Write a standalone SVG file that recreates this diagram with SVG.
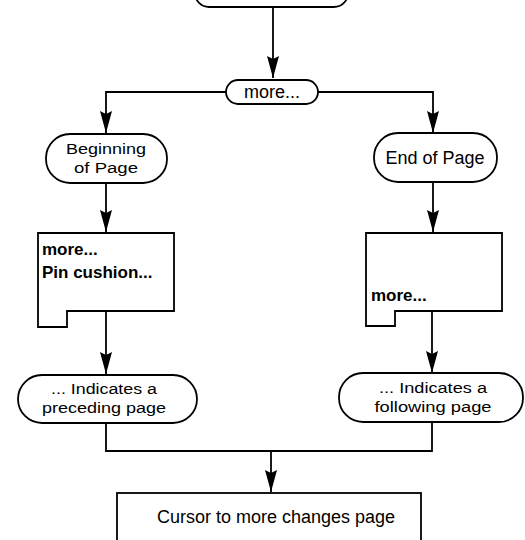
<svg xmlns="http://www.w3.org/2000/svg" width="525" height="540" viewBox="0 0 525 540">
  <style>
    .shape { fill: #ffffff; stroke: #000000; stroke-width: 1.8; }
    .wire { fill: none; stroke: #000000; stroke-width: 1.8; }
    .lbl { font-family: "Liberation Sans", Arial, sans-serif; font-size: 18px; fill: #000000; text-anchor: middle; }
    .two { font-size: 15.5px; }
    .menu { font-family: "Liberation Sans", Arial, sans-serif; font-size: 17px; font-weight: bold; fill: #000000; }
  </style>
  <defs>
    <marker id="arrow" markerUnits="userSpaceOnUse" viewBox="0 -6 22 12" markerWidth="22" markerHeight="12" refX="22" refY="0" orient="auto">
      <path d="M0,-6 L22,0 L0,6 L3,0 Z" fill="#000000"/>
    </marker>
  </defs>
  <rect width="525" height="540" fill="#ffffff"/>

  <g id="connectors">
    <path class="wire" d="M273,7 V78" marker-end="url(#arrow)"/>
    <path class="wire" d="M226,92 H106 V133" marker-end="url(#arrow)"/>
    <path class="wire" d="M318,92 H433 V133" marker-end="url(#arrow)"/>
    <path class="wire" d="M106,183 V232" marker-end="url(#arrow)"/>
    <path class="wire" d="M433,182 V232" marker-end="url(#arrow)"/>
    <path class="wire" d="M106,311 V374" marker-end="url(#arrow)"/>
    <path class="wire" d="M432,311 V373" marker-end="url(#arrow)"/>
    <path class="wire" d="M106,423 V451 H432 V422"/>
    <path class="wire" d="M271,451 V492" marker-end="url(#arrow)"/>
  </g>

  <g id="start">
    <rect class="shape" x="195" y="-30" width="153" height="37" rx="14"/>
  </g>

  <g id="more">
    <rect class="shape" x="226" y="80" width="92" height="24" rx="12"/>
    <text class="lbl" x="272" y="98" font-size="17">more...</text>
  </g>

  <g id="beginning">
    <rect class="shape" x="46" y="134" width="121" height="49" rx="24"/>
    <text class="lbl two" x="106" y="154" textLength="80" lengthAdjust="spacingAndGlyphs">Beginning</text>
    <text class="lbl two" x="106" y="173" textLength="64" lengthAdjust="spacingAndGlyphs">of Page</text>
  </g>

  <g id="end">
    <rect class="shape" x="374" y="133" width="123" height="49" rx="24"/>
    <text class="lbl" x="435" y="164">End of Page</text>
  </g>

  <g id="menu-first">
    <path class="shape" d="M38,233 H174 V311 H67 V327 H38 Z"/>
    <text class="menu" x="42" y="255">more...</text>
    <text class="menu" x="42" y="278">Pin cushion...</text>
  </g>

  <g id="menu-last">
    <path class="shape" d="M366,233 H502 V311 H395 V326 H366 Z"/>
    <text class="menu" x="371" y="301">more...</text>
  </g>

  <g id="preceding">
    <rect class="shape" x="18" y="375" width="179" height="48" rx="24"/>
    <text class="lbl two" x="104" y="394" textLength="106" lengthAdjust="spacingAndGlyphs">... Indicates a</text>
    <text class="lbl two" x="104" y="413" textLength="124" lengthAdjust="spacingAndGlyphs">preceding page</text>
  </g>

  <g id="following">
    <rect class="shape" x="339" y="373" width="184" height="49" rx="24"/>
    <text class="lbl two" x="433" y="393" textLength="108" lengthAdjust="spacingAndGlyphs">... Indicates a</text>
    <text class="lbl two" x="433" y="412" textLength="117" lengthAdjust="spacingAndGlyphs">following page</text>
  </g>

  <g id="cursor">
    <rect class="shape" x="117" y="493" width="304" height="60"/>
    <text class="lbl" x="276" y="523">Cursor to more changes page</text>
  </g>
</svg>
